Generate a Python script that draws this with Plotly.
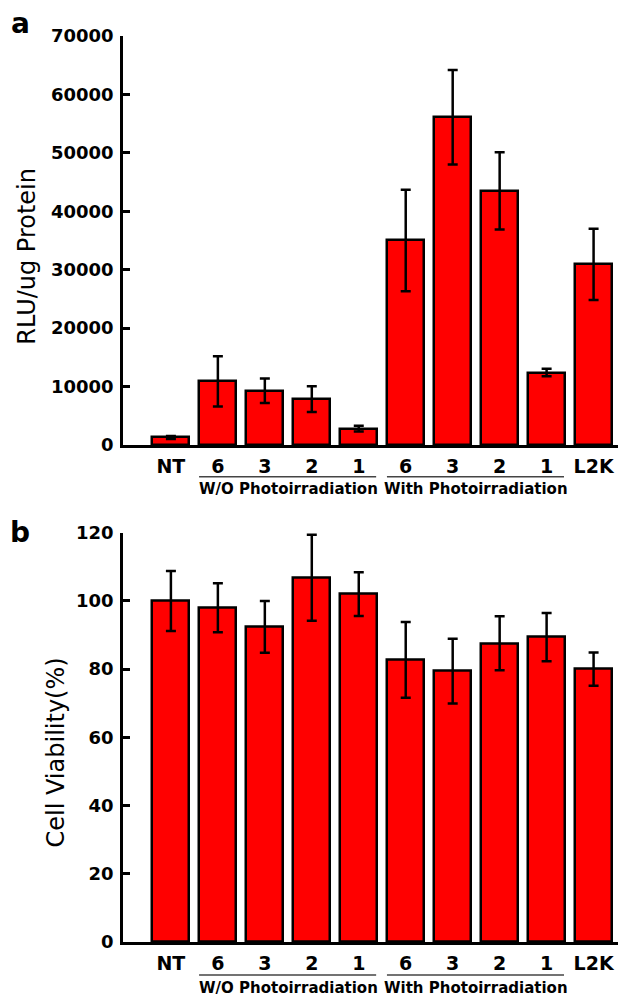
import plotly.graph_objects as go

# ---- data ----
categories = ["NT", "6", "3", "2", "1", "6", "3", "2", "1", "L2K"]
rlu_mean = [1300, 10900, 9300, 7850, 2800, 35000, 56100, 43500, 12400, 30900]
rlu_err = [250, 4300, 2100, 2200, 500, 8700, 8100, 6600, 650, 6100]
viability_mean = [100.0, 98.0, 92.4, 106.8, 102.0, 82.7, 79.4, 87.6, 89.4, 80.0]
viability_err = [8.8, 7.2, 7.6, 12.6, 6.4, 11.1, 9.5, 7.9, 7.1, 4.9]
group_labels = ["W/O Photoirradiation", "With Photoirradiation"]
group_first = [1, 5]
group_last = [4, 8]
rlu_ticks = [0, 10000, 20000, 30000, 40000, 50000, 60000, 70000]
viability_ticks = [0, 20, 40, 60, 80, 100, 120]

positions = list(range(len(categories)))
FONT = "DejaVu Sans"
RED = "#FF0000"

fig = go.Figure()

for ys, es, xa, ya in [(rlu_mean, rlu_err, "x", "y"), (viability_mean, viability_err, "x2", "y2")]:
    fig.add_trace(go.Bar(
        x=positions, y=ys, width=0.79,
        marker=dict(color=RED, line=dict(color="black", width=2.5)),
        error_y=dict(type="data", array=es, visible=True, color="black", thickness=2.5, width=5),
        xaxis=xa, yaxis=ya, showlegend=False,
    ))

xcommon = dict(
    range=[-1.02, 9.52], tickmode="array", tickvals=positions, ticktext=categories,
    showline=True, linecolor="black", linewidth=2.5, showgrid=False, zeroline=False,
    ticks="outside", ticklen=2, tickcolor="rgba(0,0,0,0)",
    tickfont=dict(family=FONT, size=19, color="black", weight="bold"),
    domain=[0.1934, 0.9717], fixedrange=True, automargin=False,
)
ycommon = dict(
    showline=True, linecolor="black", linewidth=2.5, showgrid=False, zeroline=False,
    ticks="inside", ticklen=7, tickwidth=2.5, tickcolor="black", tickformat="d",
    tickfont=dict(family=FONT, size=18, color="black", weight="bold"),
    ticklabelstandoff=3, tickmode="array", automargin=False, fixedrange=True,
)

fig.update_layout(
    width=636, height=998, margin=dict(l=0, r=0, t=0, b=0, pad=0, autoexpand=False),
    paper_bgcolor="white", plot_bgcolor="white", bargap=0, showlegend=False,
    xaxis=dict(**xcommon, anchor="y"),
    yaxis=dict(**ycommon, range=[0, 70000], tickvals=rlu_ticks, domain=[0.5541, 0.9639], anchor="x"),
    xaxis2=dict(**xcommon, anchor="y2"),
    yaxis2=dict(**ycommon, range=[0, 120], tickvals=viability_ticks, domain=[0.0561, 0.4662], anchor="x2"),
)

shapes = []
annotations = []
for line_y, text_y in [(0.5224, 0.5100), (0.0230, 0.0100)]:
    for lbl, a, b in zip(group_labels, group_first, group_last):
        shapes.append(dict(type="line", xref="x", yref="paper", x0=a - 0.4, x1=b + 0.37,
                           y0=line_y, y1=line_y, line=dict(color="#444444", width=1.5)))
        annotations.append(dict(x=(a + b) / 2, y=text_y, xref="x", yref="paper", text=lbl,
                                showarrow=False, xanchor="center", yanchor="middle",
                                font=dict(family=FONT, size=15, color="black", weight="bold")))

annotations += [
    dict(x=0.0425, y=0.7428, xref="paper", yref="paper", text="RLU/ug Protein", textangle=-90,
         showarrow=False, xanchor="center", yanchor="middle",
         font=dict(family=FONT, size=24, color="black")),
    dict(x=0.0873, y=0.2455, xref="paper", yref="paper", text="Cell Viability(%)", textangle=-90,
         showarrow=False, xanchor="center", yanchor="middle",
         font=dict(family=FONT, size=24, color="black")),
    dict(x=0.0322, y=(998 - 23.5) / 998, xref="paper", yref="paper", text="a",
         showarrow=False, xanchor="center", yanchor="middle",
         font=dict(family=FONT, size=28, color="black", weight="bold")),
    dict(x=0.0307, y=(998 - 533) / 998, xref="paper", yref="paper", text="b",
         showarrow=False, xanchor="center", yanchor="middle",
         font=dict(family=FONT, size=28, color="black", weight="bold")),
]

fig.update_layout(shapes=shapes, annotations=annotations)

fig.write_html("out.html", config={"displayModeBar": False},
               post_script="document.body.style.margin='0px';")
